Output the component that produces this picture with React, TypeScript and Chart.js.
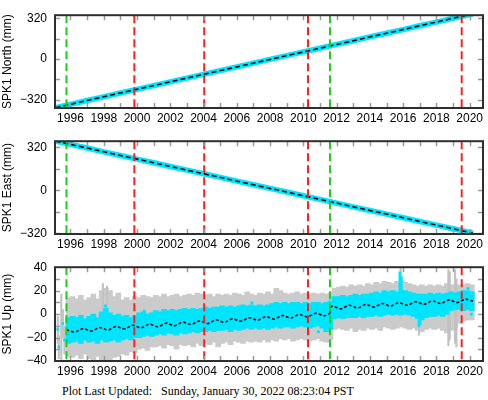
import React, { useEffect, useRef } from 'react';
import { Chart, registerables } from 'chart.js';

Chart.register(...registerables);

const FONT = "'Liberation Sans', Arial, Helvetica, sans-serif";

// ---- axes ----
const X_MIN = 1995.07;
const X_MAX = 2020.8;
const YEAR_TICKS = [1996, 1997, 1998, 1999, 2000, 2001, 2002, 2003, 2004, 2005, 2006, 2007, 2008, 2009, 2010, 2011, 2012, 2013, 2014, 2015, 2016, 2017, 2018, 2019, 2020];
const YEAR_LABELS = [1996, 1998, 2000, 2002, 2004, 2006, 2008, 2010, 2012, 2014, 2016, 2018, 2020];
const NE_LABELS = [-320, 0, 320];
const NE_MINOR = [-320, -160, 0, 160, 320];
const UP_LABELS = [-40, -20, 0, 20, 40];
const UP_MINOR = [-30, -20, -10, 0, 10, 20, 30];

// ---- events (dashed vertical lines) ----
const EVENTS_RED = [1999.84, 2004.04, 2010.28, 2019.52];
const EVENTS_GREEN = [1995.76, 2011.6];

// ---- North / East series (mm) ----
const TREND_T = [1995.1, 1996, 1997, 1998, 1999, 2000, 2001, 2002, 2003, 2004, 2005, 2006, 2007, 2008, 2009, 2010, 2011, 2012, 2013, 2014, 2015, 2016, 2017, 2018, 2019, 2020, 2020.2];
const NORTH = [-382, -356, -326, -297, -267, -238, -209, -179, -150, -120, -91, -62, -32, -3, 27, 56, 85, 115, 144, 174, 203, 232, 262, 291, 321, 350, 356];
const EAST = [366, 341, 314, 286, 259, 232, 205, 177, 150, 123, 96, 68, 41, 14, -13, -41, -68, -95, -123, -150, -177, -204, -232, -259, -286, -313, -319];
const EAST_GRAY_T = [2018.8, 2018.95, 2019.1, 2019.25];
const EAST_GRAY_LO = [-300, -305, -302, -298];
const EAST_GRAY_HI = [-266, -270, -272, -276];

// ---- Up series: quarterly spread of data (cyan) and error bars (gray) ----
const QT = [
  1995.875,
  1996.125, 1996.375, 1996.625, 1996.875,
  1997.125, 1997.375, 1997.625, 1997.875,
  1998.125, 1998.375, 1998.625, 1998.875,
  1999.125, 1999.375, 1999.625, 1999.875,
  2000.125, 2000.375, 2000.625, 2000.875,
  2001.125, 2001.375, 2001.625, 2001.875,
  2002.125, 2002.375, 2002.625, 2002.875,
  2003.125, 2003.375, 2003.625, 2003.875,
  2004.125, 2004.375, 2004.625, 2004.875,
  2005.125, 2005.375, 2005.625, 2005.875,
  2006.125, 2006.375, 2006.625, 2006.875,
  2007.125, 2007.375, 2007.625, 2007.875,
  2008.125, 2008.375, 2008.625, 2008.875,
  2009.125, 2009.375, 2009.625, 2009.875,
  2010.125, 2010.375, 2010.625, 2010.875,
  2011.125, 2011.375, 2011.625, 2011.875,
  2012.125, 2012.375, 2012.625, 2012.875,
  2013.125, 2013.375, 2013.625, 2013.875,
  2014.125, 2014.375, 2014.625, 2014.875,
  2015.125, 2015.375, 2015.625, 2015.875,
  2016.125, 2016.375, 2016.625, 2016.875,
  2017.125, 2017.375, 2017.625, 2017.875,
  2018.125, 2018.375, 2018.625, 2018.875,
  2019.125, 2019.375, 2019.625, 2019.875,
  2020.125,
];
const GRAY_HI = [
  14,
  15, 13, 16, 12,
  14, 17, 13, 20,
  22, 20, 15, 18,
  12, 14, 12, 15,
  14, 16, 15, 14,
  16, 15, 17, 15,
  16, 17, 15, 16,
  17, 16, 18, 17,
  16, 17, 15, 17,
  16, 17, 16, 18,
  17, 16, 19, 17,
  16, 18, 17, 19,
  17, 22, 20, 18,
  17, 18, 19, 17,
  18, 17, 18, 17,
  18, 17, 18, 22,
  23, 24, 23, 25,
  24, 25, 24, 26,
  25, 27, 26, 28,
  27, 26, 28, 28,
  27, 26, 25, 24,
  25, 24, 25, 24,
  25, 24, 26, 25,
  25, 25, 25, 26,
  25,
];
const GRAY_LO = [
  -36,
  -37, -35, -38, -34,
  -38, -39, -36, -39,
  -40, -39, -37, -36,
  -34, -35, -32, -33,
  -30, -29, -31, -28,
  -28, -27, -29, -26,
  -27, -30, -26, -27,
  -26, -28, -25, -27,
  -25, -26, -24, -28,
  -25, -24, -26, -23,
  -24, -25, -23, -24,
  -23, -24, -22, -24,
  -22, -23, -21, -22,
  -21, -23, -22, -21,
  -22, -23, -22, -21,
  -23, -24, -22, -13,
  -12, -13, -14, -12,
  -15, -13, -14, -12,
  -13, -12, -14, -11,
  -12, -13, -12, -11,
  -12, -13, -12, -14,
  -15, -13, -12, -13,
  -12, -14, -16, -14,
  -12, -8, -6, -5,
  -5,
];
const CYAN_HI = [
  -3,
  -2, -3, -1, -4,
  -2, 0, -3, 2,
  5, 1, -1, 0,
  -2, -1, -3, -1,
  1, 2, 0, 1,
  3, 2, 4, 3,
  4, 3, 4, 5,
  4, 5, 4, 5,
  6, 5, 6, 6,
  7, 6, 7, 6,
  7, 8, 7, 8,
  7, 8, 7, 8,
  9, 10, 9, 10,
  9, 10, 10, 9,
  10, 9, 10, 10,
  9, 10, 11, 15,
  15, 16, 15, 16,
  17, 16, 17, 17,
  18, 19, 18, 20,
  19, 20, 19, 20,
  20, 19, 18, 17,
  17, 17, 18, 17,
  18, 17, 18, 19,
  18, 19, 20, 20,
  19,
];
const CYAN_LO = [
  -25,
  -24, -23, -25, -22,
  -24, -23, -25, -22,
  -24, -23, -22, -24,
  -22, -21, -22, -20,
  -20, -19, -18, -19,
  -18, -17, -18, -16,
  -17, -18, -16, -17,
  -16, -15, -16, -15,
  -15, -14, -15, -14,
  -14, -13, -15, -13,
  -14, -13, -12, -13,
  -12, -13, -12, -13,
  -12, -11, -12, -11,
  -11, -12, -11, -10,
  -11, -12, -11, -10,
  -12, -15, -13, -4,
  -3, -4, -3, -3,
  -3, -2, -3, -2,
  -2, -1, -2, -1,
  0, -1, 0, -1,
  0, -1, -2, -4,
  -5, -3, -2, -2,
  -1, -2, 0, 3,
  4, 4, 3, 4,
  3,
];

// isolated error bars and points
const SPIKE_T = [1995.24, 1995.3, 1995.45, 1995.54, 1995.64, 1997.95, 1998.2, 2015.85, 2016.95, 2018.72, 2018.8, 2019.12, 2019.2];
const SPIKE_LO = [-25, -38, -39, -20, -34, -20, -24, -4, -18, -27, -22, -25, -28];
const SPIKE_HI = [-2, -18, 17, 4, -10, 26, 24, 40, 10, 38, 36, 38, 30];
const CYAN_SPIKE_T = [2015.8, 2015.9, 2016.95, 2017.02];
const CYAN_SPIKE_LO = [18, 18, -11, -9];
const CYAN_SPIKE_HI = [36, 32, 0, 2];
const DOT_T = [1995.24, 1995.3, 1995.54, 1995.64, 1998.1, 2000.44, 2006.9, 2010.9, 2019.9, 2020.1];
const DOT_V = [-13, -28, -8, -22, 7, 2.5, 9.5, -15, 22, 0];

// model (black dashed)
const MODEL_PRE_T = [
  1995.75,
  1996, 1996.25, 1996.5, 1996.75, 1997, 1997.25, 1997.5, 1997.75,
  1998, 1998.25, 1998.5, 1998.75, 1999, 1999.25, 1999.5, 1999.75,
  2000, 2000.25, 2000.5, 2000.75, 2001, 2001.25, 2001.5, 2001.75,
  2002, 2002.25, 2002.5, 2002.75, 2003, 2003.25, 2003.5, 2003.75,
  2004, 2004.25, 2004.5, 2004.75, 2005, 2005.25, 2005.5, 2005.75,
  2006, 2006.25, 2006.5, 2006.75, 2007, 2007.25, 2007.5, 2007.75,
  2008, 2008.25, 2008.5, 2008.75, 2009, 2009.25, 2009.5, 2009.75,
  2010, 2010.25, 2010.5, 2010.75, 2011, 2011.25, 2011.5, 2011.6,
];
const MODEL_PRE_V = [
  -13.3,
  -14.4, -15.4, -13.9, -12.4, -13.4, -14.5, -13.0, -11.4,
  -12.5, -13.6, -12.0, -10.5, -11.6, -12.6, -11.1, -9.6,
  -10.7, -11.7, -10.2, -8.6, -9.7, -10.8, -9.3, -7.7,
  -8.8, -9.9, -8.3, -6.8, -7.9, -8.9, -7.4, -5.9,
  -6.9, -8.0, -6.5, -4.9, -6.0, -7.1, -5.5, -4.0,
  -5.1, -6.1, -4.6, -3.1, -4.1, -5.2, -3.7, -2.1,
  -3.2, -4.3, -2.7, -1.2, -2.3, -3.3, -1.8, -0.3,
  -1.4, -2.4, -0.9, 0.7, -0.4, -1.5, 0.1, 0.6,
];
const MODEL_POST_T = [
  2011.6, 2011.75,
  2012, 2012.25, 2012.5, 2012.75, 2013, 2013.25, 2013.5, 2013.75,
  2014, 2014.25, 2014.5, 2014.75, 2015, 2015.25, 2015.5, 2015.75,
  2016, 2016.25, 2016.5, 2016.75, 2017, 2017.25, 2017.5, 2017.75,
  2018, 2018.25, 2018.5, 2018.75, 2019, 2019.25, 2019.5, 2019.75,
  2020, 2020.2,
];
const MODEL_POST_V = [
  5.9, 6.7,
  5.6, 4.5, 6.0, 7.5, 6.4, 5.2, 6.7, 8.2,
  7.1, 6.0, 7.5, 9.0, 7.9, 6.8, 8.3, 9.7,
  8.6, 7.5, 9.0, 10.5, 9.4, 8.3, 9.8, 11.3,
  10.2, 9.0, 10.5, 12.0, 10.9, 9.8, 11.3, 12.8,
  11.7, 11.2,
];

const CYAN = '#00e5ff';
const GRAY = '#cbcbcb';

function eventSets(lo: number, hi: number) {
  const mk = (t: number, color: string, w: number) => ({
    type: 'line',
    data: [{ x: t, y: hi }, { x: t, y: lo }],
    borderColor: color,
    borderWidth: w,
    borderDash: [8, 4],
    pointRadius: 0,
    fill: false,
  });
  return [
    ...EVENTS_RED.map((t) => mk(t, '#ff1f1f', 2)),
    ...EVENTS_GREEN.map((t) => mk(t, '#1ccc1c', 2)),
  ];
}

function framePlugin(yMinor: number[]) {
  return {
    id: 'frameTicks',
    afterDatasetsDraw(chart: any) {
      const { ctx, chartArea: a, scales } = chart;
      const xs = scales.x;
      const ys = scales.y;
      ctx.save();
      ctx.strokeStyle = '#9a9a9a';
      ctx.lineWidth = 1.5;
      ctx.beginPath();
      for (const t of YEAR_TICKS) {
        const px = Math.round(xs.getPixelForValue(t)) + 0.5;
        ctx.moveTo(px, a.bottom);
        ctx.lineTo(px, a.bottom - 5);
        ctx.moveTo(px, a.top);
        ctx.lineTo(px, a.top + 5);
      }
      for (const v of yMinor) {
        const py = Math.round(ys.getPixelForValue(v)) + 0.5;
        ctx.moveTo(a.left, py);
        ctx.lineTo(a.left + 5, py);
        ctx.moveTo(a.right, py);
        ctx.lineTo(a.right - 5, py);
      }
      ctx.stroke();
      ctx.strokeStyle = '#2e2e2e';
      ctx.lineWidth = 2;
      ctx.strokeRect(a.left, a.top, a.right - a.left, a.bottom - a.top);
      ctx.restore();
    },
  };
}

type PanelProps = {
  top: number;
  height: number;
  padTop: number;
  xAxisH: number;
  yMin: number;
  yMax: number;
  yLabels: number[];
  yMinor: number[];
  title: string;
  datasets: any[];
};

function Panel(p: PanelProps) {
  const ref = useRef<HTMLCanvasElement | null>(null);
  useEffect(() => {
    if (!ref.current) return;
    const font = { family: FONT, size: 12 };
    const chart = new Chart(ref.current, {
      type: 'line',
      data: { datasets: p.datasets },
      options: {
        animation: false,
        responsive: false,
        devicePixelRatio: 1,
        events: [],
        layout: { padding: { top: p.padTop, right: 5, left: 0, bottom: 0 } },
        plugins: { legend: { display: false }, tooltip: { enabled: false } },
        scales: {
          x: {
            type: 'linear',
            min: X_MIN,
            max: X_MAX,
            offset: false,
            grid: { display: false, drawTicks: false },
            border: { display: false },
            afterBuildTicks: (s: any) => {
              s.ticks = YEAR_LABELS.map((v) => ({ value: v }));
            },
            afterFit: (s: any) => {
              s.height = p.xAxisH;
            },
            ticks: {
              autoSkip: false,
              maxRotation: 0,
              padding: 3,
              color: '#000',
              font,
              callback: (v: any) => String(v),
            },
          },
          y: {
            type: 'linear',
            min: p.yMin,
            max: p.yMax,
            grid: { display: false, drawTicks: false },
            border: { display: false },
            afterBuildTicks: (s: any) => {
              s.ticks = p.yLabels.map((v) => ({ value: v }));
            },
            afterFit: (s: any) => {
              s.width = 55;
            },
            ticks: {
              padding: 8,
              color: '#000',
              font,
              callback: (v: any) => (Number(v) < 0 ? '\u2212' + Math.abs(Number(v)) : String(v)),
            },
            title: {
              display: true,
              text: p.title,
              color: '#000',
              font,
              padding: { top: 0, bottom: 0 },
            },
          },
        },
      } as any,
      plugins: [framePlugin(p.yMinor)],
    } as any);
    return () => chart.destroy();
  }, []);
  return (
    <canvas
      ref={ref}
      width={488}
      height={p.height}
      style={{ position: 'absolute', left: 0, top: p.top, width: 488, height: p.height }}
    />
  );
}

function trendSets(values: number[]) {
  const pts = TREND_T.map((t, i) => ({ x: t, y: values[i] }));
  return [
    { type: 'line', data: pts, borderColor: '#000', borderWidth: 1.5, borderDash: [5, 3], pointRadius: 0, fill: false },
    { type: 'line', data: pts, borderColor: CYAN, borderWidth: 5.5, pointRadius: 0, fill: false },
  ];
}

export default function App() {
  const NORTH_MIN = -385, NORTH_MAX = 345;
  const EAST_MIN = -325, EAST_MAX = 365;
  const UP_MIN = -40, UP_MAX = 40;

  const northSets = [...eventSets(NORTH_MIN, NORTH_MAX), ...trendSets(NORTH)];
  const eastSets = [
    ...eventSets(EAST_MIN, EAST_MAX),
    ...trendSets(EAST),
    {
      type: 'bar',
      data: EAST_GRAY_T.map((t, i) => ({ x: t, y: [EAST_GRAY_LO[i], EAST_GRAY_HI[i]] })),
      backgroundColor: GRAY,
      barThickness: 3,
      grouped: false,
      borderWidth: 0,
    },
  ];
  const upSets = [
    ...eventSets(UP_MIN, UP_MAX),
    {
      type: 'line',
      data: [{ x: 2011.6, y: MODEL_PRE_V[MODEL_PRE_V.length - 1] }, { x: 2011.6, y: MODEL_POST_V[0] }],
      borderColor: '#000', borderWidth: 1.3, pointRadius: 0, fill: false,
    },
    {
      type: 'line',
      data: MODEL_PRE_T.map((t, i) => ({ x: t, y: MODEL_PRE_V[i] })),
      borderColor: '#000', borderWidth: 1.5, borderDash: [3, 2], pointRadius: 0, tension: 0.4, fill: false,
    },
    {
      type: 'line',
      data: MODEL_POST_T.map((t, i) => ({ x: t, y: MODEL_POST_V[i] })),
      borderColor: '#000', borderWidth: 1.5, borderDash: [3, 2], pointRadius: 0, tension: 0.4, fill: false,
    },
    {
      type: 'line',
      data: DOT_T.map((t, i) => ({ x: t, y: DOT_V[i] })),
      showLine: false, pointRadius: 1.6, pointBackgroundColor: CYAN, pointBorderWidth: 0, borderColor: CYAN,
    },
    {
      type: 'bar',
      data: CYAN_SPIKE_T.map((t, i) => ({ x: t, y: [CYAN_SPIKE_LO[i], CYAN_SPIKE_HI[i]] })),
      backgroundColor: CYAN, barThickness: 2, grouped: false, borderWidth: 0,
    },
    {
      type: 'bar',
      data: QT.map((t, i) => ({ x: t, y: [CYAN_LO[i], CYAN_HI[i]] })),
      backgroundColor: CYAN, barThickness: 5, grouped: false, borderWidth: 0,
    },
    {
      type: 'bar',
      data: SPIKE_T.map((t, i) => ({ x: t, y: [SPIKE_LO[i], SPIKE_HI[i]] })),
      backgroundColor: '#c2c2c2', barThickness: 1.5, grouped: false, borderWidth: 0,
    },
    {
      type: 'bar',
      data: QT.map((t, i) => ({ x: t, y: [GRAY_LO[i], GRAY_HI[i]] })),
      backgroundColor: GRAY, barThickness: 5, grouped: false, borderWidth: 0,
    },
  ];

  return (
    <div style={{ position: 'absolute', left: 0, top: 0, width: 488, height: 400, background: '#fff', overflow: 'hidden' }}>
      <Panel top={0} height={126} padTop={2} xAxisH={18} yMin={NORTH_MIN} yMax={NORTH_MAX}
        yLabels={NE_LABELS} yMinor={NE_MINOR} title="SPK1 North (mm)" datasets={northSets} />
      <Panel top={126} height={126} padTop={1} xAxisH={18} yMin={EAST_MIN} yMax={EAST_MAX}
        yLabels={NE_LABELS} yMinor={NE_MINOR} title="SPK1 East (mm)" datasets={eastSets} />
      <Panel top={252} height={128} padTop={1} xAxisH={19} yMin={UP_MIN} yMax={UP_MAX}
        yLabels={UP_LABELS} yMinor={UP_MINOR} title="SPK1 Up (mm)" datasets={upSets} />
      <div
        style={{
          position: 'absolute', left: 62, top: 384, fontFamily: "'Liberation Serif', 'Times New Roman', serif",
          fontSize: 12, lineHeight: '14px', whiteSpace: 'pre', color: '#000',
        }}
      >
        {'Plot Last Updated:   Sunday, January 30, 2022 08:23:04 PST'}
      </div>
    </div>
  );
}
